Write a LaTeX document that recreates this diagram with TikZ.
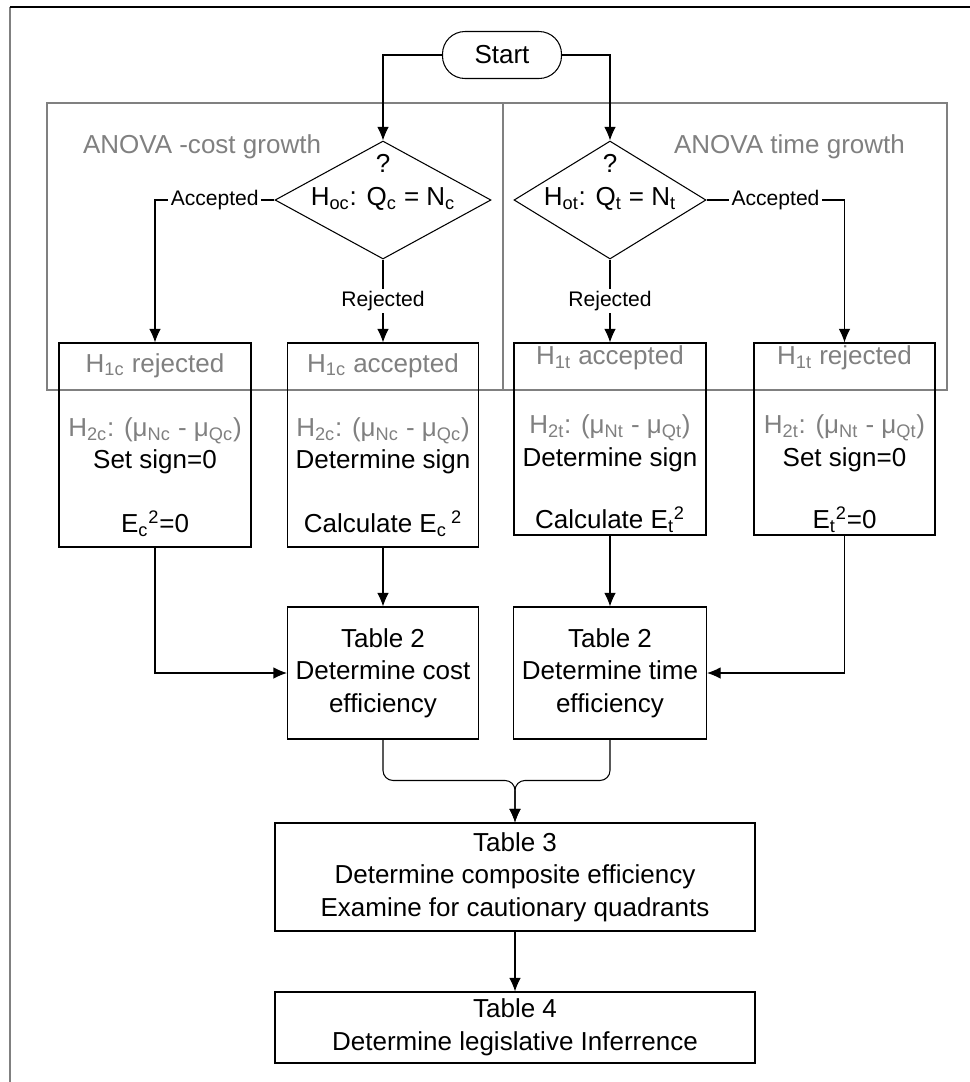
\documentclass[tikz,border=0pt]{standalone}
\usepackage{fontspec}
\setmainfont{Liberation Sans}
\usepackage{tikz}
\usetikzlibrary{shapes,arrows,arrows.meta}

\definecolor{anovagray}{RGB}{128,128,128}
\newcommand{\flowfont}{\fontsize{14.8}{18.5}\selectfont}
\newcommand{\choicefont}{\fontsize{12}{14}\selectfont}

\begin{document}
\begin{tikzpicture}[node distance=3cm, font=\flowfont, line width=0.6pt]
        % Define block styles
        \tikzstyle{terminal} = [rectangle, draw, rounded corners=0.45cm,
            minimum width=2.38cm, minimum height=0.94cm]
        \tikzstyle{decision} = [diamond, draw, minimum height=2.36cm, inner sep=0pt]
        \tikzstyle{test} = [rectangle, draw, align=center, inner sep=0pt]
        \tikzstyle{block} = [rectangle, draw, align=center, inner sep=0pt]
        \tikzstyle{choice} = [fill=white, inner sep=1.5pt, font=\choicefont]
        \tikzstyle{line} = [draw, -{Latex[length=0.27cm, width=0.23cm]}]

        \useasboundingbox (0,0) rectangle (19.4,-21.64);

        % Frame and ANOVA panels
        \draw [anovagray, line width=0.9pt] (0.2,-0.14) -- (0.2,-21.64);
        \draw [line width=0.9pt] (0.2,-0.14) -- (19.4,-0.14);
        \draw [anovagray] (0.94,-2.06) rectangle (18.94,-7.80);
        \draw [anovagray] (10.06,-2.06) -- (10.06,-7.80);
        \node [text=anovagray] (anovac) at (4.04,-2.94) {ANOVA -cost growth};
        \node [text=anovagray] (anovat) at (15.79,-2.94) {ANOVA time growth};

        % Nodes
        \node [terminal] (start) at (10.04,-1.10) {Start};
        \node [decision, minimum width=4.32cm,
            label={[align=center, yshift=0.35cm]center:{?\\H\textsubscript{oc}: Q\textsubscript{c} = N\textsubscript{c}}}]
            (dc) at (7.66,-4.00) {};
        \node [decision, minimum width=3.84cm, right of=dc, node distance=4.54cm,
            label={[align=center, yshift=0.35cm]center:{?\\H\textsubscript{ot}: Q\textsubscript{t} = N\textsubscript{t}}}]
            (dt) {};
        \node [test, below of=dc, node distance=4.90cm, minimum width=3.82cm, minimum height=4.08cm] (accc)
            {\textcolor{anovagray}{H\textsubscript{1c} accepted}\\[18pt]
             \textcolor{anovagray}{H\textsubscript{2c}: (μ\textsubscript{Nc} - μ\textsubscript{Qc})}\\
             Determine sign\\[18pt]
             Calculate E\textsubscript{c}\,\textsuperscript{2}};
        \node [test, left of=accc, node distance=4.56cm, minimum width=3.84cm, minimum height=4.08cm] (rejc)
            {\textcolor{anovagray}{H\textsubscript{1c} rejected}\\[18pt]
             \textcolor{anovagray}{H\textsubscript{2c}: (μ\textsubscript{Nc} - μ\textsubscript{Qc})}\\
             Set sign=0\\[18pt]
             E\textsubscript{c}\textsuperscript{2}=0};
        \node [test, below of=dt, node distance=4.78cm, minimum width=3.84cm, minimum height=3.84cm] (acct)
            {\textcolor{anovagray}{H\textsubscript{1t} accepted}\\[21pt]
             \textcolor{anovagray}{H\textsubscript{2t}: (μ\textsubscript{Nt} - μ\textsubscript{Qt})}\\
             Determine sign\\[17pt]
             Calculate E\textsubscript{t}\textsuperscript{2}};
        \node [test, right of=acct, node distance=4.69cm, minimum width=3.62cm, minimum height=3.84cm] (rejt)
            {\textcolor{anovagray}{H\textsubscript{1t} rejected}\\[21pt]
             \textcolor{anovagray}{H\textsubscript{2t}: (μ\textsubscript{Nt} - μ\textsubscript{Qt})}\\
             Set sign=0\\[17pt]
             E\textsubscript{t}\textsuperscript{2}=0};
        \node [block, below of=accc, node distance=4.56cm, minimum width=3.82cm, minimum height=2.64cm] (costeff)
            {Table 2\\Determine cost\\efficiency};
        \node [block, below of=acct, node distance=4.68cm, minimum width=3.86cm, minimum height=2.64cm] (timeeff)
            {Table 2\\Determine time\\efficiency};
        \node [block, minimum width=9.6cm, minimum height=2.16cm] (composite) at (10.30,-17.54)
            {Table 3\\Determine composite efficiency\\Examine for cautionary quadrants};
        \node [block, below of=composite, node distance=3.01cm, minimum width=9.6cm, minimum height=1.42cm] (legis)
            {Table 4\\Determine legislative Inferrence};
        \coordinate (merge) at ([yshift=0.84cm]composite.north);

        % Arrows
        \path [line] (start.west) -| (dc.north);
        \path [line] (start.east) -| (dt.north);
        \path [line] (dc.west) -| node [choice, pos=0.25] {Accepted} (rejc.north);
        \path [line] (dt.east) -| node [choice, pos=0.25] {Accepted} (rejt.north);
        \path [line] (dc.south) -- node [choice] {Rejected} (accc.north);
        \path [line] (dt.south) -- node [choice] {Rejected} (acct.north);
        \path [line] (rejc.south) |- (costeff.west);
        \path [line] (accc.south) -- (costeff.north);
        \path [line] (acct.south) -- (timeeff.north);
        \path [line] (rejt.south) |- (timeeff.east);
        \path [line, rounded corners=0.2cm] (costeff.south) |- (merge) -- (composite.north);
        \path [line, rounded corners=0.2cm] (timeeff.south) |- (merge) -- (composite.north);
        \path [line] (composite) -- (legis);
    \end{tikzpicture}
\end{document}
